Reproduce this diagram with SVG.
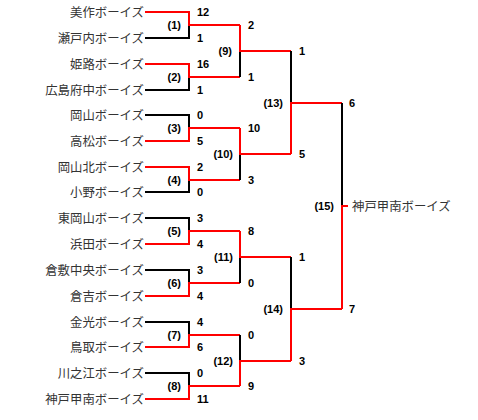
<svg xmlns="http://www.w3.org/2000/svg" width="478" height="420" viewBox="0 0 478 420">
<style>
.team{font-family:"Noto Sans CJK JP","Noto Sans CJK SC",sans-serif;font-size:12.4px;fill:#333;text-anchor:end}
.win{font-family:"Noto Sans CJK JP","Noto Sans CJK SC",sans-serif;font-size:12.4px;fill:#333}
.sc{font-family:"Liberation Sans",Arial,sans-serif;font-size:11px;font-weight:bold;fill:#000}
.lb{font-family:"Liberation Sans",Arial,sans-serif;font-size:11px;font-weight:bold;fill:#000;text-anchor:end}
.r{fill:none;stroke:#ff0000;stroke-width:2}
.k{fill:none;stroke:#000;stroke-width:2}
</style>
<rect width="478" height="420" fill="#fff"/>
<g id="connectors">
<path class="k" d="M145,38H189V25"/><path class="r" d="M145,12H189V25H240"/>
<path class="k" d="M145,90H189V77"/><path class="r" d="M145,64H189V77H240"/>
<path class="k" d="M145,115H189V128"/><path class="r" d="M145,141H189V128H240"/>
<path class="k" d="M145,192H189V180"/><path class="r" d="M145,167H189V180H240"/>
<path class="k" d="M145,218H189V231"/><path class="r" d="M145,244H189V231H240"/>
<path class="k" d="M145,270H189V283"/><path class="r" d="M145,296H189V283H240"/>
<path class="k" d="M145,322H189V335"/><path class="r" d="M145,347H189V335H240"/>
<path class="k" d="M145,373H189V386"/><path class="r" d="M145,399H189V386H240"/>
<path class="k" d="M240,77V51"/><path class="r" d="M240,25V51H291"/>
<path class="k" d="M240,180V154"/><path class="r" d="M240,128V154H291"/>
<path class="k" d="M240,283V257"/><path class="r" d="M240,231V257H291"/>
<path class="k" d="M240,335V361"/><path class="r" d="M240,386V361H291"/>
<path class="k" d="M291,51V103"/><path class="r" d="M291,154V103H342"/>
<path class="k" d="M291,257V309"/><path class="r" d="M291,361V309H342"/>
<path class="k" d="M342,103V206"/><path class="r" d="M342,309V206H348"/>
</g>
<g id="teams">
<g id="t1"><text class="team" x="144" y="16.5">美作ボーイズ</text></g>
<g id="t2"><text class="team" x="144" y="42.5">瀬戸内ボーイズ</text></g>
<g id="t3"><text class="team" x="144" y="68.5">姫路ボーイズ</text></g>
<g id="t4"><text class="team" x="144" y="94.5">広島府中ボーイズ</text></g>
<g id="t5"><text class="team" x="144" y="119.5">岡山ボーイズ</text></g>
<g id="t6"><text class="team" x="144" y="145.5">高松ボーイズ</text></g>
<g id="t7"><text class="team" x="144" y="171.5">岡山北ボーイズ</text></g>
<g id="t8"><text class="team" x="144" y="196.5">小野ボーイズ</text></g>
<g id="t9"><text class="team" x="144" y="222.5">東岡山ボーイズ</text></g>
<g id="t10"><text class="team" x="144" y="248.5">浜田ボーイズ</text></g>
<g id="t11"><text class="team" x="144" y="274.5">倉敷中央ボーイズ</text></g>
<g id="t12"><text class="team" x="144" y="300.5">倉吉ボーイズ</text></g>
<g id="t13"><text class="team" x="144" y="326.5">金光ボーイズ</text></g>
<g id="t14"><text class="team" x="144" y="351.5">鳥取ボーイズ</text></g>
<g id="t15"><text class="team" x="144" y="377.5">川之江ボーイズ</text></g>
<g id="t16"><text class="team" x="144" y="403.5">神戸甲南ボーイズ</text></g>
<g id="champion"><text class="win" x="352" y="210.5">神戸甲南ボーイズ</text></g>
</g>
<g id="scores">
<text class="sc" x="197" y="16">12</text><text class="sc" x="197" y="42">1</text>
<text class="sc" x="197" y="68">16</text><text class="sc" x="197" y="94">1</text>
<text class="sc" x="197" y="119">0</text><text class="sc" x="197" y="145">5</text>
<text class="sc" x="197" y="171">2</text><text class="sc" x="197" y="196">0</text>
<text class="sc" x="197" y="222">3</text><text class="sc" x="197" y="248">4</text>
<text class="sc" x="197" y="274">3</text><text class="sc" x="197" y="300">4</text>
<text class="sc" x="197" y="326">4</text><text class="sc" x="197" y="351">6</text>
<text class="sc" x="197" y="377">0</text><text class="sc" x="197" y="403">11</text>
<text class="sc" x="248" y="29">2</text><text class="sc" x="248" y="81">1</text>
<text class="sc" x="248" y="132">10</text><text class="sc" x="248" y="184">3</text>
<text class="sc" x="248" y="235">8</text><text class="sc" x="248" y="287">0</text>
<text class="sc" x="248" y="339">0</text><text class="sc" x="248" y="390">9</text>
<text class="sc" x="299" y="55">1</text><text class="sc" x="299" y="158">5</text>
<text class="sc" x="299" y="261">1</text><text class="sc" x="299" y="365">3</text>
<text class="sc" x="349" y="107">6</text><text class="sc" x="349" y="313">7</text>
</g>
<g id="matches">
<g id="m1"><text class="lb" x="181" y="29">(1)</text></g>
<g id="m2"><text class="lb" x="181" y="81">(2)</text></g>
<g id="m3"><text class="lb" x="181" y="132">(3)</text></g>
<g id="m4"><text class="lb" x="181" y="184">(4)</text></g>
<g id="m5"><text class="lb" x="181" y="235">(5)</text></g>
<g id="m6"><text class="lb" x="181" y="287">(6)</text></g>
<g id="m7"><text class="lb" x="181" y="339">(7)</text></g>
<g id="m8"><text class="lb" x="181" y="390">(8)</text></g>
<g id="m9"><text class="lb" x="232" y="55">(9)</text></g>
<g id="m10"><text class="lb" x="233" y="158">(10)</text></g>
<g id="m11"><text class="lb" x="233" y="261">(11)</text></g>
<g id="m12"><text class="lb" x="233" y="365">(12)</text></g>
<g id="m13"><text class="lb" x="283" y="107">(13)</text></g>
<g id="m14"><text class="lb" x="283" y="313">(14)</text></g>
<g id="m15"><text class="lb" x="334" y="210">(15)</text></g>
</g>
</svg>
